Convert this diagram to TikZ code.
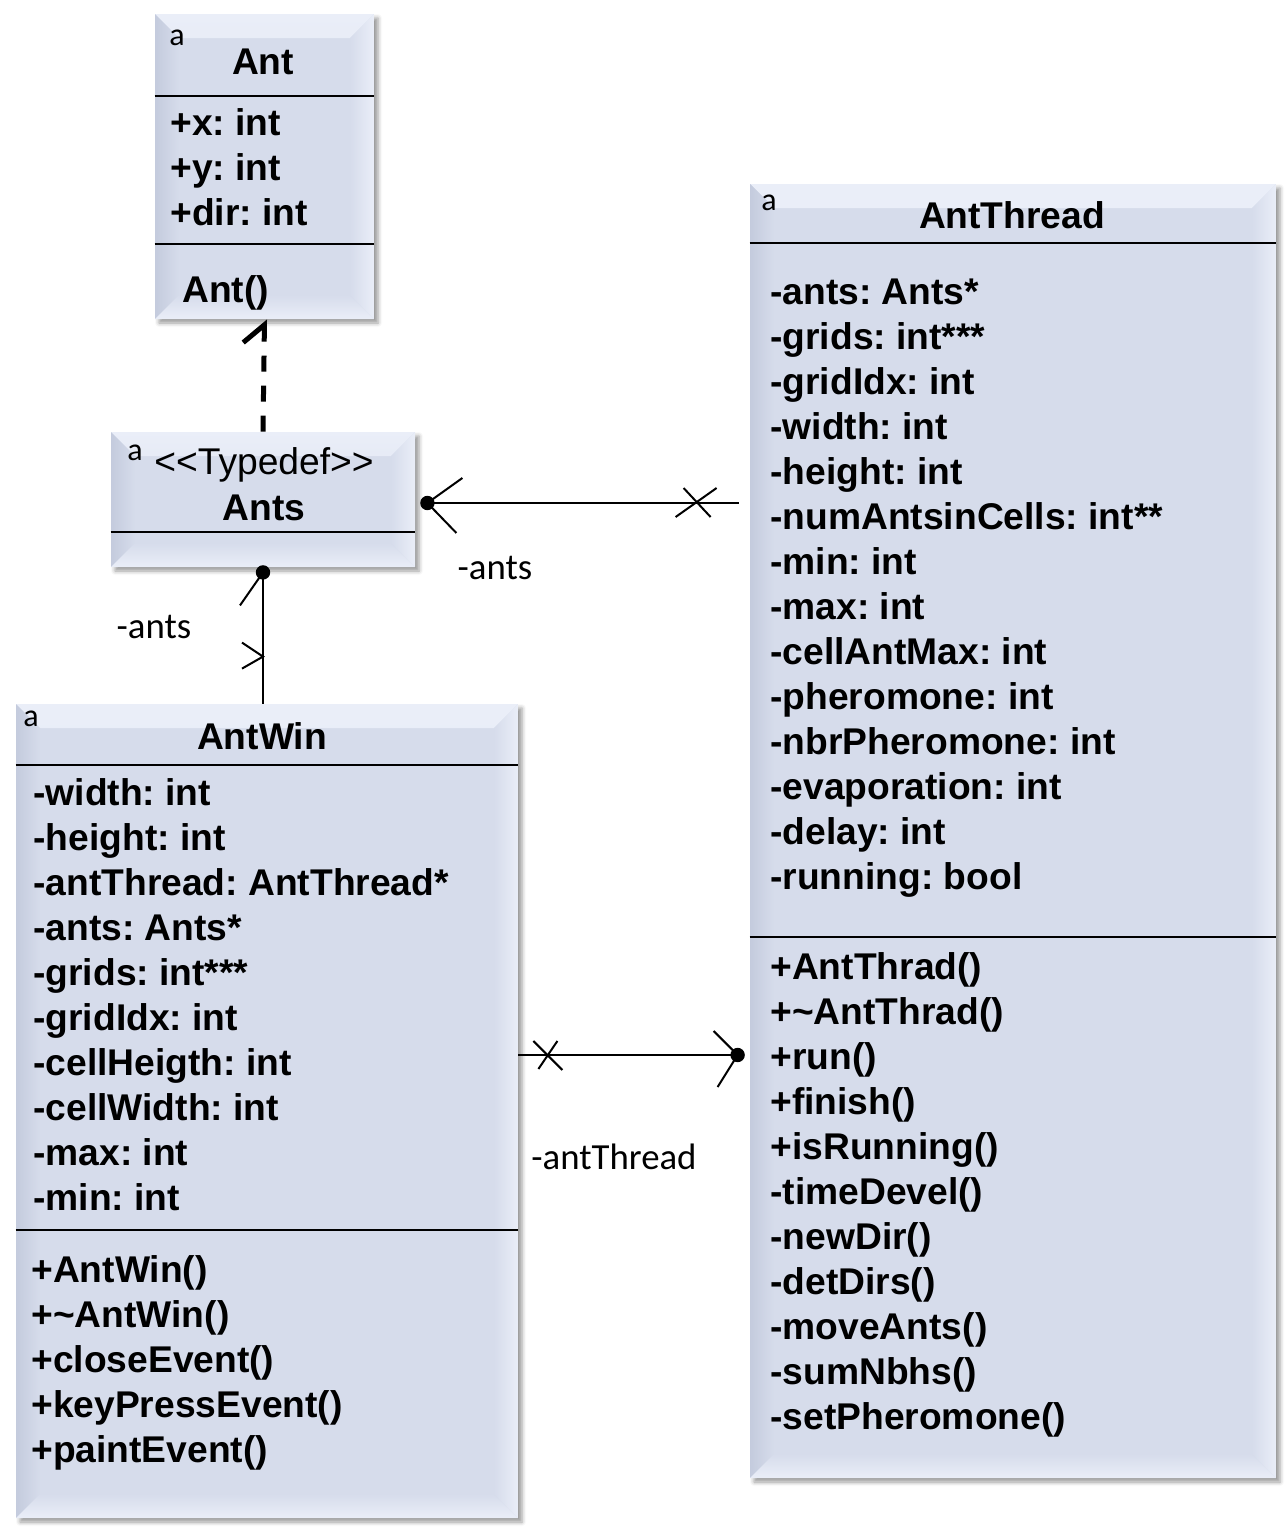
\documentclass[tikz,border=0pt]{standalone}
\usepackage{fontspec}
\setmainfont{Liberation Sans}
\newfontfamily\calibri{Carlito}
\usetikzlibrary{calc,arrows.meta,shadows.blur}
\frenchspacing

\definecolor{classfill}{RGB}{214,220,235}
\definecolor{classlight}{RGB}{234,238,248}
\definecolor{classdark}{RGB}{196,203,221}

\begin{document}
\begin{tikzpicture}[x=.5pt, y=-.5pt,
  classbox/.style={rectangle, fill=classfill, inner sep=0pt,
    blur shadow={shadow xshift=2pt, shadow yshift=-2pt, shadow blur radius=2pt, shadow opacity=40},
    path picture={
      \shade[top color=classlight, bottom color=classfill]
        (path picture bounding box.north west) -- (path picture bounding box.north east)
        -- ([shift={(-12pt,-12pt)}]path picture bounding box.north east)
        -- ([shift={(12pt,-12pt)}]path picture bounding box.north west) -- cycle;
      \shade[left color=classdark, right color=classfill]
        (path picture bounding box.north west) -- (path picture bounding box.south west)
        -- ([shift={(12pt,12pt)}]path picture bounding box.south west)
        -- ([shift={(12pt,-12pt)}]path picture bounding box.north west) -- cycle;
      \shade[top color=classfill, bottom color=classlight]
        (path picture bounding box.south west) -- (path picture bounding box.south east)
        -- ([shift={(-12pt,12pt)}]path picture bounding box.south east)
        -- ([shift={(12pt,12pt)}]path picture bounding box.south west) -- cycle;
      \shade[left color=classfill, right color=classlight]
        (path picture bounding box.north east) -- (path picture bounding box.south east)
        -- ([shift={(-12pt,12pt)}]path picture bounding box.south east)
        -- ([shift={(-12pt,-12pt)}]path picture bounding box.north east) -- cycle;
    }},
  member/.style={anchor=base west, inner sep=0pt, font=\fontsize{18.6}{22}\selectfont\bfseries},
  classname/.style={anchor=base, inner sep=0pt, font=\fontsize{18.6}{22}\selectfont\bfseries},
  corner/.style={anchor=base west, inner sep=0pt, font=\calibri\fontsize{16}{18}\selectfont},
  role/.style={inner sep=0pt, font=\calibri\fontsize{18.4}{22}\selectfont},
  divider/.style={line width=.7pt},
  link/.style={line width=1.2pt},
  xmark/.style={line width=1pt},
  realize/.style={line width=2.5pt, dash pattern=on 8pt off 7pt,
    -{Straight Barb[left, length=9pt, width=21pt]}}]

\useasboundingbox (0,0) rectangle (1286,1532);

% classes
\node [classbox, minimum width=109.5pt, minimum height=152.5pt] (ant) at (264.5,166.5) {};
\node [classbox, minimum width=152pt, minimum height=67.5pt] (ants) at (263,499.5) {};
\node [classbox, minimum width=263pt, minimum height=647pt] (antthread) at (1013,831) {};
\node [classbox, minimum width=251pt, minimum height=407pt] (antwin) at (267,1111) {};

\draw [divider] (ant.west |- 0,96) -- (ant.east |- 0,96);
\draw [divider] (ant.west |- 0,244) -- (ant.east |- 0,244);
\draw [divider] (ants.west |- 0,532) -- (ants.east |- 0,532);
\draw [divider] (antthread.west |- 0,243) -- (antthread.east |- 0,243);
\draw [divider] (antthread.west |- 0,937) -- (antthread.east |- 0,937);
\draw [divider] (antwin.west |- 0,765) -- (antwin.east |- 0,765);
\draw [divider] (antwin.west |- 0,1230) -- (antwin.east |- 0,1230);

\node [corner] (ant-a) at (169,45) {a};
\node [corner] (ants-a) at (127,460) {a};
\node [corner] (antthread-a) at (761,210) {a};
\node [corner] (antwin-a) at (23,726) {a};

\node [classname] (ant-name) at (263,74) {Ant};
\node [anchor=base, inner sep=0pt, font=\fontsize{18.6}{22}\selectfont] (ants-stereo) at (264,474) {<{}<Typedef>{}>};
\node [classname] (ants-name) at (264,520) {Ants};
\node [classname] (antthread-name) at (1012,228) {AntThread};
\node [classname] (antwin-name) at (262,749) {AntWin};

% members
\foreach \m [count=\i from 0] in {+x: int, +y: int, +dir: int}
  \node [member] (ant-attr\i) at (170,135+45*\i) {\m};
\node [member] (ant-op0) at (182,302) {Ant()};

\foreach \m [count=\i from 0] in {-ants: Ants*, -grids: int***, -gridIdx: int, -width: int,
    -height: int, -numAntsinCells: int**, -min: int, -max: int, -cellAntMax: int,
    -pheromone: int, -nbrPheromone: int, -evaporation: int, -delay: int, -running: bool}
  \node [member] (antthread-attr\i) at (770,304+45*\i) {\m};
\foreach \m [count=\i from 0] in {+AntThrad(), +\textasciitilde AntThrad(), +run(), +finish(),
    +isRunning(), -timeDevel(), -newDir(), -detDirs(), -moveAnts(), -sumNbhs(), -setPheromone()}
  \node [member] (antthread-op\i) at (770,979+45*\i) {\m};

\foreach \m [count=\i from 0] in {-width: int, -height: int, -antThread: AntThread*, -ants: Ants*,
    -grids: int***, -gridIdx: int, -cellHeigth: int, -cellWidth: int, -max: int, -min: int}
  \node [member] (antwin-attr\i) at (33,805+45*\i) {\m};
\foreach \m [count=\i from 0] in {+AntWin(), +\textasciitilde AntWin(), +closeEvent(),
    +keyPressEvent(), +paintEvent()}
  \node [member] (antwin-op\i) at (31,1282+45*\i) {\m};

% Ants realizes Ant
\draw [realize] (ants.north) -- (ant.south);

% AntWin -> Ants
\coordinate (w1) at (ants.south |- antwin.north);
\coordinate (w2) at ($(ants.south)+(0,5)$);
\draw [link] (w1) -- (w2);
\fill (w2) circle (3.6pt);
\draw [xmark] (w2) -- ++(-23,33);
\draw [xmark] ($(w1)+(-21,-61)$) -- ($(w1)+(0,-47)$) -- ($(w1)+(-21,-35)$);
\node [role] (w-role) at (154,627) {-ants};

% AntThread -> Ants
\coordinate (t1) at ($(antthread.west |- 0,503)+(-11,0)$);
\coordinate (t2) at ($(ants.east |- t1)+(12,0)$);
\draw [link] (t1) -- (t2);
\fill (t2) circle (3.6pt);
\draw [xmark] ($(t2)+(35,-25)$) -- (t2) -- ($(t2)+(29,30)$);
\draw [xmark] ($(t1)+(-55,-15)$) -- ($(t1)+(-28,14)$);
\draw [xmark] ($(t1)+(-63,14)$) -- ($(t1)+(-22,-15)$);
\node [role] (t-role) at (495,568) {-ants};

% AntWin -> AntThread
\coordinate (u1) at (antwin.east |- 0,1055);
\coordinate (u2) at ($(antthread.west |- u1)+(-12,0)$);
\draw [link] (u1) -- (u2);
\fill (u2) circle (3.6pt);
\draw [xmark] ($(u2)+(-24,-24)$) -- (u2) -- ($(u2)+(-20,32)$);
\draw [xmark] ($(u1)+(15,-14)$) -- ($(u1)+(44,15)$);
\draw [xmark] ($(u1)+(20,14)$) -- ($(u1)+(39,-14)$);
\node [role] (u-role) at (614,1157) {-antThread};

\end{tikzpicture}
\end{document}
